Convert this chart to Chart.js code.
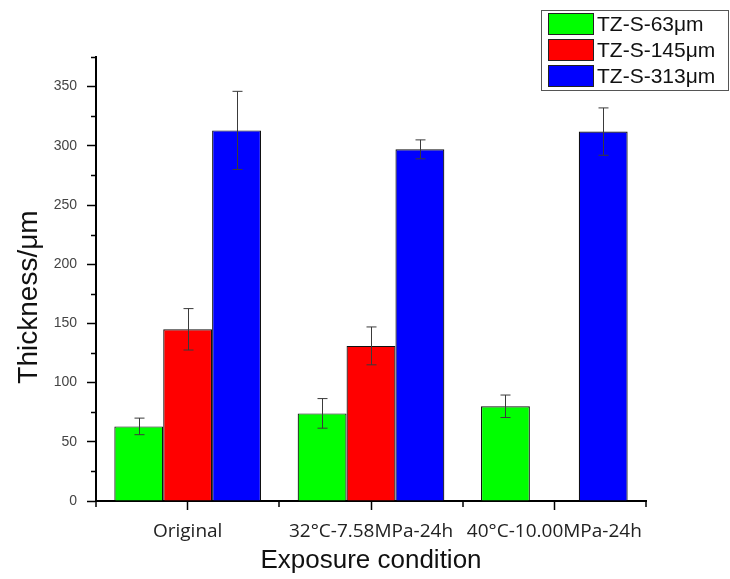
<!DOCTYPE html>
<html>
<head>
<meta charset="utf-8">
<script src="https://cdn.jsdelivr.net/npm/chart.js@4.4.1/dist/chart.umd.min.js"></script>
<style>
  html, body { margin: 0; padding: 0; background: #fff; }
  #wrap { width: 730px; height: 579px; }
</style>
</head>
<body>
<div id="wrap"><canvas id="thicknessChart" width="730" height="579"></canvas></div>
<script>
// exposure conditions along the x axis
const conditions = ['Original', '32°C-7.58MPa-24h', '40°C-10.00MPa-24h'];

// mean thickness (μm) per sample, null = not measured
const tz63 = [63, 74, 80];
const tz145 = [145, 131, null];
const tz313 = [313, 297, 312];

// standard deviations for the error bars
const tz63Err = [7, 12.5, 9.5];
const tz145Err = [17.5, 16, null];
const tz313Err = [33, 8, 20];

const seriesNames = ['TZ-S-63μm', 'TZ-S-145μm', 'TZ-S-313μm'];
const yTicks = [0, 50, 100, 150, 200, 250, 300, 350];
const yMinorTicks = [25, 75, 125, 175, 225, 275, 325, 375];
const yTitle = 'Thickness/μm';

const errors = [tz63Err, tz145Err, tz313Err];

// error bars drawn on top of each bar
const errorBars = {
    id: 'errorBars',
    afterDatasetsDraw(chart) {
        const ctx = chart.ctx;
        const y = chart.scales.y;
        ctx.save();
        ctx.strokeStyle = '#3a3a3a';
        ctx.lineWidth = 1;
        chart.data.datasets.forEach((ds, i) => {
            const meta = chart.getDatasetMeta(i);
            meta.data.forEach((bar, j) => {
                const v = ds.data[j];
                const e = errors[i][j];
                if (v == null || e == null) return;
                const x = Math.round(bar.x) + 0.5;
                const top = y.getPixelForValue(v + e);
                const bot = y.getPixelForValue(v - e);
                ctx.beginPath();
                ctx.moveTo(x, top);
                ctx.lineTo(x, bot);
                ctx.moveTo(x - 5, top);
                ctx.lineTo(x + 5, top);
                ctx.moveTo(x - 5, bot);
                ctx.lineTo(x + 5, bot);
                ctx.stroke();
            });
        });
        ctx.restore();
    }
};

// short minor ticks on both axes, plus the y axis title
const minorTicks = {
    id: 'minorTicks',
    afterDraw(chart) {
        const ctx = chart.ctx;
        const y = chart.scales.y;
        const area = chart.chartArea;
        ctx.save();
        ctx.strokeStyle = '#000';
        ctx.lineWidth = 1.5;
        ctx.beginPath();
        yMinorTicks.forEach(v => {
            const py = Math.round(y.getPixelForValue(v)) + 0.5;
            ctx.moveTo(area.left - 5, py);
            ctx.lineTo(area.left, py);
        });
        const n = conditions.length;
        const step = (area.right - area.left) / n;
        for (let i = 0; i <= n; i++) {
            const px = Math.round(area.left + i * step);
            ctx.moveTo(px, area.bottom);
            ctx.lineTo(px, area.bottom + 6);
        }
        ctx.stroke();

        // axis title sits a little below the middle of the axis
        ctx.translate(37, 297);
        ctx.rotate(-Math.PI / 2);
        ctx.fillStyle = '#111';
        ctx.font = '28px "Liberation Sans", Arial, sans-serif';
        ctx.textAlign = 'center';
        ctx.textBaseline = 'alphabetic';
        ctx.fillText(yTitle, 0, 0);
        ctx.restore();
    }
};

// boxed legend in the top right corner
const boxLegend = {
    id: 'boxLegend',
    afterDraw(chart) {
        const ctx = chart.ctx;
        const bx = 541.5, by = 10.5, bw = 187, bh = 80;
        ctx.save();
        ctx.fillStyle = '#fff';
        ctx.fillRect(bx, by, bw, bh);
        ctx.strokeStyle = '#555';
        ctx.lineWidth = 1;
        ctx.strokeRect(bx, by, bw, bh);
        chart.data.datasets.forEach((ds, i) => {
            const ry = 13 + i * 26;
            ctx.fillStyle = ds.backgroundColor;
            ctx.fillRect(548, ry, 46, 22);
            ctx.strokeStyle = '#222';
            ctx.strokeRect(548.5, ry + 0.5, 45, 21);
            ctx.fillStyle = '#111';
            ctx.font = '21px "Liberation Sans", Arial, sans-serif';
            ctx.textBaseline = 'middle';
            ctx.fillText(ds.label, 597, ry + 12);
        });
        ctx.restore();
    }
};

const canvas = document.getElementById('thicknessChart');
const ctx = canvas.getContext('2d');

new Chart(ctx, {
    type: 'bar',
    data: {
        labels: conditions,
        datasets: [
            { label: seriesNames[0], data: tz63, backgroundColor: '#00ff00' },
            { label: seriesNames[1], data: tz145, backgroundColor: '#ff0000' },
            { label: seriesNames[2], data: tz313, backgroundColor: '#0000ff' }
        ]
    },
    options: {
        responsive: false,
        animation: false,
        layout: { padding: { top: 57, right: 84, bottom: 0, left: 0 } },
        datasets: {
            bar: {
                categoryPercentage: 0.8,
                barPercentage: 1.0,
                borderColor: '#111',
                borderWidth: 1.2
            }
        },
        plugins: {
            legend: { display: false },
            tooltip: { enabled: false }
        },
        scales: {
            x: {
                offset: true,
                grid: {
                    offset: false,
                    drawOnChartArea: false,
                    tickLength: 9,
                    tickColor: '#000',
                    tickWidth: 1.5
                },
                border: { color: '#000', width: 2 },
                ticks: {
                    color: '#222',
                    padding: 10,
                    maxRotation: 0,
                    font: { family: '"Open Sans", sans-serif', size: 19 }
                },
                title: {
                    display: true,
                    text: 'Exposure condition',
                    color: '#111',
                    padding: { top: 0, bottom: 3 },
                    font: { family: '"Liberation Sans", Arial, sans-serif', size: 26 }
                },
                afterFit(scale) { scale.height = 78; }
            },
            y: {
                min: 0,
                max: 375,
                afterBuildTicks(scale) {
                    scale.ticks = yTicks.map(v => ({ value: v }));
                },
                grid: {
                    drawOnChartArea: false,
                    tickLength: 9,
                    tickColor: '#000',
                    tickWidth: 1.5
                },
                border: { color: '#000', width: 2 },
                ticks: {
                    color: '#444',
                    padding: 10,
                    font: { family: '"Liberation Sans", Arial, sans-serif', size: 14 }
                },
                afterFit(scale) { scale.width = 96; }
            }
        }
    },
    plugins: [errorBars, minorTicks, boxLegend]
});
</script>
</body>
</html>
